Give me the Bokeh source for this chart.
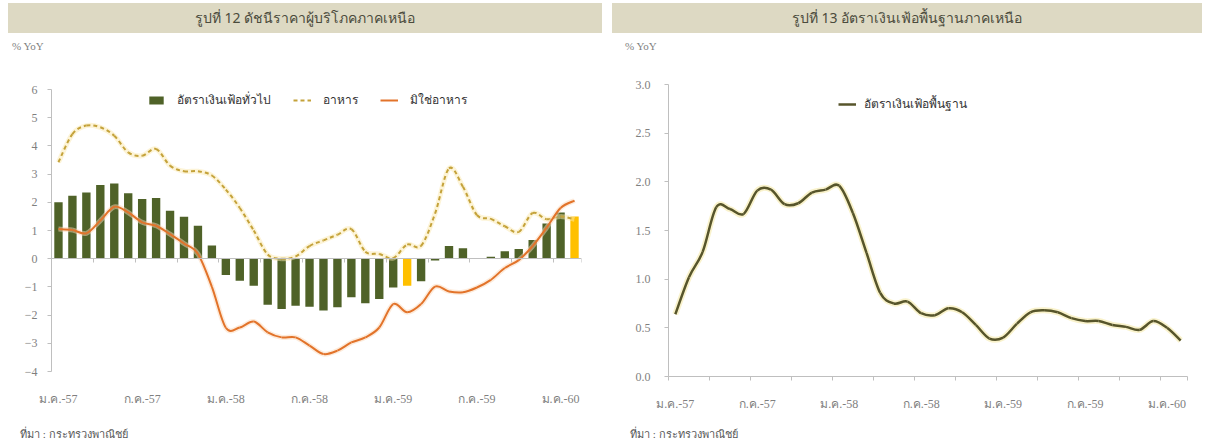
from bokeh.plotting import figure
from bokeh.models import (Range1d, FixedTicker, LinearAxis, Legend, LegendItem, Div,
                          ColumnDataSource)
from bokeh.layouts import row, column
from bokeh.embed import file_html
from bokeh.resources import INLINE

# ---------------- data ----------------
thai_months = ["ม.ค.", "ก.พ.", "มี.ค.", "เม.ย.", "พ.ค.", "มิ.ย.",
               "ก.ค.", "ส.ค.", "ก.ย.", "ต.ค.", "พ.ย.", "ธ.ค."]
years = ["57", "58", "59", "60"]
months = [f"{m}-{y}" for y in years for m in thai_months][:38]
tick_labels = ["ม.ค.-57", "ก.ค.-57", "ม.ค.-58", "ก.ค.-58", "ม.ค.-59", "ก.ค.-59", "ม.ค.-60"]
highlight_months = ["ก.พ.-59", "ก.พ.-60"]

headline = [2.00, 2.23, 2.35, 2.61, 2.67, 2.32, 2.12, 2.15, 1.70, 1.49, 1.17, 0.47,
            -0.58, -0.78, -0.96, -1.63, -1.78, -1.67, -1.70, -1.84, -1.72, -1.37, -1.58, -1.43,
            -1.02, -0.96, -0.80, -0.06, 0.45, 0.37, 0.02, 0.07, 0.26, 0.34, 0.66, 1.25,
            1.64, 1.50]
food = [3.42, 4.42, 4.72, 4.66, 4.36, 3.77, 3.65, 3.89, 3.30, 3.10, 3.10, 2.95,
        2.45, 1.80, 1.00, 0.15, 0.00, 0.08, 0.45, 0.65, 0.85, 1.05, 0.25, 0.17,
        0.02, 0.50, 0.46, 1.60, 3.20, 2.55, 1.55, 1.41, 1.15, 0.95, 1.62, 1.40,
        1.50, 1.40]
nonfood = [1.05, 1.02, 0.90, 1.35, 1.84, 1.64, 1.29, 1.17, 0.87, 0.54, 0.17, -1.00,
           -2.45, -2.44, -2.23, -2.61, -2.79, -2.79, -3.08, -3.38, -3.26, -2.97, -2.79, -2.44,
           -1.61, -1.90, -1.61, -0.99, -1.16, -1.19, -1.02, -0.75, -0.33, -0.05, 0.45, 1.10,
           1.80, 2.06]
core = [0.64, 1.02, 1.28, 1.74, 1.72, 1.67, 1.91, 1.92, 1.77, 1.78, 1.89, 1.92,
        1.96, 1.68, 1.27, 0.86, 0.75, 0.77, 0.65, 0.63, 0.70, 0.66, 0.53, 0.39,
        0.40, 0.54, 0.66, 0.68, 0.66, 0.60, 0.57, 0.57, 0.53, 0.51, 0.48, 0.57,
        0.50, 0.37]

# ---------------- styling ----------------
GREEN = "#4f6228"
YELLOW = "#ffc000"
FOOD = "#c4a23a"
NONFOOD = "#e2732a"
CORE = "#57552b"
AXIS = "#bfbfbf"
TXT = "#7f7f7f"
NUMFONT = "Liberation Serif"
THAIFONT = "Noto Sans"

x = list(range(len(months)))
tick_pos = [months.index(t) for t in tick_labels]
overrides = {p: t for p, t in zip(tick_pos, tick_labels)}
bounds = [i - 0.5 for i in range(0, len(months), 3)] + [len(months) - 0.5]
bar_colors = [YELLOW if m in highlight_months else GREEN for m in months]

bar_src = ColumnDataSource(dict(x=x, headline=headline, color=bar_colors))


def smooth_source(xs, ys):
    """Excel-style smoothed line: one cubic Bezier per pair of neighbouring points."""
    n = len(xs)
    d = dict(x0=[], y0=[], x1=[], y1=[], cx0=[], cy0=[], cx1=[], cy1=[])
    for i in range(n - 1):
        a = max(i - 1, 0)
        b = min(i + 2, n - 1)
        d["x0"].append(xs[i]); d["y0"].append(ys[i])
        d["x1"].append(xs[i + 1]); d["y1"].append(ys[i + 1])
        d["cx0"].append(xs[i] + (xs[i + 1] - xs[a]) / 6)
        d["cy0"].append(ys[i] + (ys[i + 1] - ys[a]) / 6)
        d["cx1"].append(xs[i + 1] - (xs[b] - xs[i]) / 6)
        d["cy1"].append(ys[i + 1] - (ys[b] - ys[i]) / 6)
    return ColumnDataSource(d)


def smooth_line(p, xs, ys, **kw):
    return p.bezier(x0="x0", y0="y0", x1="x1", y1="y1", cx0="cx0", cy0="cy0",
                    cx1="cx1", cy1="cy1", source=smooth_source(xs, ys), **kw)


def legend_key(p, xs, ys, **kw):
    # a one-point line draws nothing on the plot, only its legend swatch
    return p.line(x=xs[:1], y=ys[:1], **kw)


def style_common(p):
    p.outline_line_color = None
    p.xgrid.visible = False
    p.ygrid.visible = False
    p.background_fill_color = "white"
    p.border_fill_color = "white"


def title_div(text, width, left):
    return Div(text=text, width=width, height=30, margin=(3, 0, 0, left),
               styles={"background-color": "#ddd9c3", "text-align": "center",
                       "font-size": "14px", "line-height": "30px", "color": "#4b4b3c",
                       "font-family": f"'{THAIFONT}', sans-serif", "overflow": "hidden"})


def small_div(text, width, height, pad_left, color):
    return Div(text=text, width=width, height=height, margin=(0, 0, 0, 0),
               styles={"font-size": "11px", "line-height": f"{height}px", "color": color,
                       "padding-left": f"{pad_left}px", "box-sizing": "border-box",
                       "font-family": f"'{NUMFONT}', '{THAIFONT}', serif",
                       "overflow": "hidden", "white-space": "nowrap"})


def style_yaxis(ax, standoff):
    ax.axis_line_color = AXIS
    ax.major_tick_line_color = AXIS
    ax.major_tick_out = 4
    ax.major_tick_in = 0
    ax.minor_tick_line_color = None
    ax.major_label_text_color = TXT
    ax.major_label_text_font = NUMFONT
    ax.major_label_text_font_size = "12px"
    ax.major_label_standoff = standoff


# ---------------- left chart ----------------
p1 = figure(width=602, height=367, x_range=Range1d(-0.5, len(months) - 0.5),
            y_range=Range1d(-4, 6), output_backend="svg", toolbar_location=None,
            min_border_left=51, min_border_right=21, min_border_top=30, min_border_bottom=55,
            margin=(0, 0, 0, 0))
style_common(p1)

bars = p1.vbar(x="x", top="headline", width=0.6, fill_color="color", line_color=None,
               source=bar_src)
smooth_line(p1, x, food, line_color="#fbeab0", line_width=5, line_alpha=0.5)
smooth_line(p1, x, food, line_color=FOOD, line_width=2, line_dash="4 3")
smooth_line(p1, x, nonfood, line_color="#fbd7b8", line_width=5, line_alpha=0.5)
smooth_line(p1, x, nonfood, line_color=NONFOOD, line_width=2)
food_key = legend_key(p1, x, food, line_color=FOOD, line_width=2, line_dash="4 3")
nonfood_key = legend_key(p1, x, nonfood, line_color=NONFOOD, line_width=2)

ya = p1.yaxis[0]
ya.ticker = FixedTicker(ticks=list(range(-4, 7)))
style_yaxis(ya, 10)

xa = p1.xaxis[0]
xa.ticker = FixedTicker(ticks=tick_pos)
xa.major_label_overrides = overrides
xa.axis_line_color = None
xa.major_tick_line_color = None
xa.minor_tick_line_color = None
xa.major_label_text_color = TXT
xa.major_label_text_font = NUMFONT
xa.major_label_text_font_size = "12px"
xa.major_label_standoff = 14

zero_axis = LinearAxis(fixed_location=0, ticker=FixedTicker(ticks=[], minor_ticks=bounds),
                       axis_line_color=AXIS, minor_tick_line_color=AXIS,
                       minor_tick_out=4, minor_tick_in=0, major_tick_line_color=None,
                       major_label_text_font_size="0px")
p1.add_layout(zero_axis, "below")

leg1 = Legend(items=[LegendItem(label="อัตราเงินเฟ้อทั่วไป", renderers=[bars]),
                     LegendItem(label="อาหาร", renderers=[food_key]),
                     LegendItem(label="มิใช่อาหาร", renderers=[nonfood_key])],
              orientation="horizontal", location=(96, 262),
              background_fill_alpha=0, border_line_alpha=0, padding=0, margin=0,
              spacing=22, label_standoff=12, glyph_width=18, glyph_height=10,
              label_text_font=THAIFONT, label_text_font_size="12px",
              label_text_color="#333333")
p1.add_layout(leg1)

# ---------------- right chart ----------------
p2 = figure(width=600, height=367, x_range=Range1d(-0.5, len(months) - 0.5),
            y_range=Range1d(0, 3.0), output_backend="svg", toolbar_location=None,
            min_border_left=66, min_border_right=15, min_border_top=25, min_border_bottom=50,
            margin=(0, 0, 0, 0))
style_common(p2)

smooth_line(p2, x, core, line_color="#f6edb5", line_width=6, line_alpha=0.7)
smooth_line(p2, x, core, line_color=CORE, line_width=2.5)
core_key = legend_key(p2, x, core, line_color=CORE, line_width=2.5)

ya2 = p2.yaxis[0]
ya2.ticker = FixedTicker(ticks=[0, 0.5, 1.0, 1.5, 2.0, 2.5, 3.0])
ya2.major_label_overrides = {0: "0.0", 0.5: "0.5", 1: "1.0", 1.5: "1.5", 2: "2.0",
                             2.5: "2.5", 3: "3.0"}
style_yaxis(ya2, 14)

xa2 = p2.xaxis[0]
xa2.ticker = FixedTicker(ticks=tick_pos, minor_ticks=bounds)
xa2.major_label_overrides = overrides
xa2.axis_line_color = AXIS
xa2.major_tick_line_color = None
xa2.major_tick_out = 0
xa2.major_tick_in = 0
xa2.minor_tick_line_color = AXIS
xa2.minor_tick_out = 4
xa2.minor_tick_in = 0
xa2.major_label_text_color = TXT
xa2.major_label_text_font = NUMFONT
xa2.major_label_text_font_size = "12px"
xa2.major_label_standoff = 16

leg2 = Legend(items=[LegendItem(label="อัตราเงินเฟ้อพื้นฐาน", renderers=[core_key])],
              location=(170, 263), background_fill_alpha=0, border_line_alpha=0,
              padding=0, margin=0, label_standoff=8, glyph_width=18, glyph_height=10,
              label_text_font=THAIFONT, label_text_font_size="12px",
              label_text_color="#333333")
p2.add_layout(leg2)

left = column(title_div("รูปที่ 12 ดัชนีราคาผู้บริโภคภาคเหนือ", 594, 8),
              small_div("% YoY", 602, 26, 12, TXT),
              p1,
              small_div("ที่มา : กระทรวงพาณิชย์", 602, 17, 20, "#595959"),
              spacing=0, margin=(0, 0, 0, 0))
right = column(title_div("รูปที่ 13 อัตราเงินเฟ้อพื้นฐานภาคเหนือ", 590, 10),
               small_div("% YoY", 600, 26, 23, TXT),
               p2,
               small_div("ที่มา : กระทรวงพาณิชย์", 600, 17, 28, "#595959"),
               spacing=0, margin=(0, 0, 0, 0))
layout = row(left, right, spacing=0, margin=(0, 0, 0, 0))

open("out.html", "w").write(file_html(layout, INLINE))
